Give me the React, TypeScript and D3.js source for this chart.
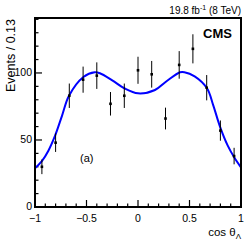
import React from "react";
import * as d3 from "d3";

// binned data: bin centres and event counts
const binCenters = [-0.933, -0.8, -0.667, -0.533, -0.4, -0.267, -0.133, 0, 0.133, 0.267, 0.4, 0.533, 0.667, 0.8, 0.933];
const counts = [30, 48, 83, 95, 98, 77, 83, 102, 99, 66, 106, 118, 89, 57, 38];

// fit curve
const fitX = [-1, -0.935, -0.87, -0.806, -0.738, -0.67, -0.53, -0.42, -0.37, -0.25, -0.133, 0, 0.165, 0.28, 0.408, 0.45, 0.55, 0.67, 0.73, 0.796, 0.87, 0.935, 1];
const fitY = [29, 34, 42, 53, 68, 83, 97, 100.5, 99.8, 94.5, 88.6, 84.8, 87.3, 94, 100.5, 100.6, 97.5, 88.6, 76, 60, 46, 37, 29.6];

const xTicks = [-1, -0.5, 0, 0.5, 1];
const yTicks = [0, 50, 100];

const App = () => {
  const left = 35, right = 241, top = 18, bottom = 207;
  const x = d3.scaleLinear().domain([-1, 1]).range([left, right]);
  const y = d3.scaleLinear().domain([0, 141]).range([bottom, top]);

  const line = d3
    .line<number>()
    .x((d, i) => x(fitX[i]))
    .y((d) => y(d))
    .curve(d3.curveCatmullRom);

  const xMinor = d3.range(-10, 11).map((i) => i / 10);
  const yMinor = d3.range(0, 141, 10);
  const font = "Liberation Sans, Arial, sans-serif";

  return (
    <svg width={249} height={242} style={{ position: "absolute", left: 0, top: 0 }} fontFamily={font}>
      <rect width={249} height={242} fill="white" />
      {/* minor + major ticks */}
      {xMinor.map((t) => {
        const major = xTicks.some((m) => Math.abs(m - t) < 1e-6);
        return <line key={"xm" + t} x1={x(t)} x2={x(t)} y1={bottom} y2={bottom - (major ? 7 : 3.5)} stroke="black" strokeWidth={1.2} />;
      })}
      {yMinor.map((t) => {
        const major = yTicks.includes(t);
        return <line key={"ym" + t} x1={left} x2={left + (major ? 7 : 3.5)} y1={y(t)} y2={y(t)} stroke="black" strokeWidth={1.2} />;
      })}
      <path d={line(fitY) || ""} fill="none" stroke="#0000ff" strokeWidth={2} />
      {binCenters.map((c, i) => {
        const e = Math.sqrt(counts[i]);
        return (
          <g key={"p" + i}>
            <line x1={x(c)} x2={x(c)} y1={y(counts[i] - e)} y2={y(counts[i] + e)} stroke="black" strokeWidth={1} />
            <rect x={x(c) - 1.3} y={y(counts[i]) - 1.3} width={2.6} height={2.6} fill="black" />
          </g>
        );
      })}
      <rect x={left} y={top} width={right - left} height={bottom - top} fill="none" stroke="black" strokeWidth={2} />
      {xTicks.map((t) => (
        <text key={"xl" + t} x={x(t)} y={221.5} fontSize={10.5} textAnchor="middle">
          {t < 0 ? "\u2212" + Math.abs(t) : t}
        </text>
      ))}
      {yTicks.map((t) => (
        <text key={"yl" + t} x={32} y={y(t) + (t === 0 ? 2.5 : 3.5)} fontSize={10.5} textAnchor="end">
          {t}
        </text>
      ))}
      <text transform="translate(15,19) rotate(-90)" fontSize={12.5} textAnchor="end">
        Events / 0.13
      </text>
      <text x={241} y={236} fontSize={11.5} textAnchor="end">
        cos θ<tspan fontSize={8} dy={3}>Λ</tspan>
      </text>
      <text x={241} y={14} fontSize={10} textAnchor="end">
        19.8 fb<tspan fontSize={7} dy={-4}>-1</tspan>
        <tspan dy={4}> (8 TeV)</tspan>
      </text>
      <text x={232} y={38} fontSize={13} fontWeight="bold" textAnchor="end">
        CMS
      </text>
      <text x={80} y={162} fontSize={11}>
        (a)
      </text>
    </svg>
  );
};

export default App;
